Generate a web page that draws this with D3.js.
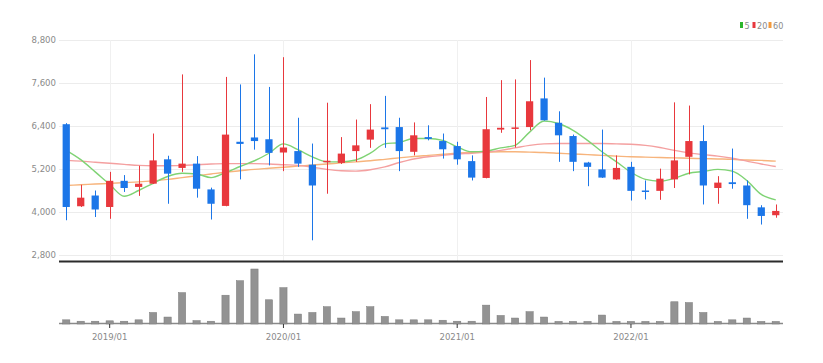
<!DOCTYPE html>
<html lang="ko">
  <head>
    <meta charset="utf-8">
    <title>monthly chart</title>
    <script src="https://d3js.org/d3.v7.min.js" charset="utf-8"></script>
    <style type="text/css">
        body {
            margin: 0;
            background: #fff;
        }
        svg text {
            font-family: "Liberation Sans Narrow", "DejaVu Sans Condensed", sans-serif;
            fill: #8a8a8a;
        }
    </style>
  </head>
  <body>
    <script type="text/javascript">
        // months on the x axis
        var months = ["2018/10","2018/11","2018/12",
            "2019/01","2019/02","2019/03","2019/04","2019/05","2019/06","2019/07","2019/08","2019/09","2019/10","2019/11","2019/12",
            "2020/01","2020/02","2020/03","2020/04","2020/05","2020/06","2020/07","2020/08","2020/09","2020/10","2020/11","2020/12",
            "2021/01","2021/02","2021/03","2021/04","2021/05","2021/06","2021/07","2021/08","2021/09","2021/10","2021/11","2021/12",
            "2022/01","2022/02","2022/03","2022/04","2022/05","2022/06","2022/07","2022/08","2022/09","2022/10","2022/11"];
        var tickLabels = ["2019/01", "2020/01", "2021/01", "2022/01"];
        var priceTicks = [2800, 4000, 5200, 6400, 7600, 8800];

        // candles
        var open  = [6450,4160,4460,4140,4870,4700,4790,5470,5230,5350,4630,4170,5960,6080,6030,5660,5700,5320,5390,5370,5700,6020,6360,6370,5680,
                     6090,5980,5840,5420,4950,6300,6330,6370,7170,6490,6120,5380,5190,4910,5260,4600,4590,4910,5540,5980,4670,4830,4740,4130,3910];
        var high  = [6480,4760,4600,5120,5030,5290,6190,5570,7840,5560,4680,7770,7560,8400,7490,8320,6630,5910,7050,6090,6580,7010,7240,6630,6500,
                     6420,6190,5960,5580,7210,7680,7700,8240,7750,6810,6160,5400,6300,5580,5400,4880,5210,7060,6970,6420,5000,5770,4880,4190,4210];
        var low   = [3770,4140,3860,3810,4560,4450,4780,4230,5120,4400,3790,4160,4910,5740,5300,5140,5260,3210,4510,5340,5400,5790,5790,5140,5580,
                     6000,5490,5320,4880,4940,6210,5800,6280,6550,5400,5140,4720,4950,4900,4320,4350,4340,4670,5050,4210,4230,4650,3810,3650,3840];
        var close = [4140,4400,4070,4870,4670,4790,5440,5070,5350,4650,4230,6160,5900,5980,5650,5800,5350,4740,5430,5630,5860,6300,6310,5700,6140,
                     6040,5750,5470,4960,6310,6350,6360,7090,6560,6140,5400,5260,4960,5230,4590,4560,4930,5440,5980,4740,4820,4780,4190,3890,4030];
        var volume = [160000,90000,90000,110000,90000,160000,530000,300000,1530000,120000,90000,1400000,2130000,2720000,1170000,
                      1780000,450000,530000,820000,250000,570000,820000,330000,160000,160000,160000,140000,90000,90000,900000,
                      380000,250000,570000,300000,80000,80000,80000,400000,80000,80000,80000,80000,1070000,1030000,530000,
                      80000,160000,250000,80000,80000];

        // moving averages as drawn
        var ma5  = [5720,5460,5120,4770,4440,4600,4800,4990,5080,5060,4960,5100,5270,5430,5640,5900,5740,5540,5400,5400,5450,5640,5900,5940,6050,
                    6050,6000,5820,5680,5700,5790,5860,6230,6540,6470,6280,6000,5680,5400,5110,4910,4860,4940,5080,5130,5190,5140,4880,4490,4340];
        var ma20 = [5440,5420,5390,5360,5330,5300,5290,5290,5300,5320,5340,5350,5350,5350,5340,5320,5300,5250,5190,5150,5140,5180,5260,5380,5480,
                    5540,5580,5620,5640,5670,5720,5790,5860,5900,5910,5910,5910,5910,5900,5890,5860,5800,5720,5650,5600,5560,5500,5420,5340,5270];
        var ma60 = [4740,4760,4780,4800,4820,4840,4870,4910,4960,5010,5060,5110,5150,5190,5220,5250,5280,5310,5340,5370,5400,5430,5470,5510,5550,
                    5580,5610,5640,5660,5670,5680,5680,5670,5660,5640,5620,5600,5580,5560,5540,5530,5520,5510,5500,5490,5480,5470,5450,5440,5420];

        var maNames = ["5", "20", "60"];
        var maColors = ["#7fd374", "#f4a0a0", "#f7b47c"];
        var upColor = "#e8383d", downColor = "#1c76e8";

        var width = 823, height = 363;
        var left = 59, right = 783;
        var priceTop = 40, priceBottom = 255, sepY = 261.5;
        var volTop = 268, volBottom = 323;

        var svg = d3.select("body").append("svg")
            .attr("width", width)
            .attr("height", height);

        var x = d3.scaleBand()
            .domain(months)
            .range([left, right])
            .paddingInner(0.5)
            .paddingOuter(0.25);
        var bw = x.bandwidth();
        var cx = function (i) { return x(months[i]) + bw / 2; };

        var y = d3.scaleLinear().domain([2800, 8800]).range([priceBottom, priceTop]);
        var yv = d3.scaleLinear().domain([0, d3.max(volume)]).range([volBottom, volTop + 1]);

        // grid
        svg.append("g")
            .selectAll("line")
            .data(priceTicks)
            .enter()
            .append("line")
            .attr("x1", left).attr("x2", right)
            .attr("y1", function (d) { return Math.round(y(d)) + 0.5; })
            .attr("y2", function (d) { return Math.round(y(d)) + 0.5; })
            .attr("stroke", "#ececec");

        svg.append("g")
            .selectAll("line")
            .data(tickLabels)
            .enter()
            .append("line")
            .attr("x1", function (d) { return Math.round(x(d) + bw / 2) + 0.5; })
            .attr("x2", function (d) { return Math.round(x(d) + bw / 2) + 0.5; })
            .attr("y1", priceTop).attr("y2", sepY)
            .attr("stroke", "#f0f0f0");

        // y labels
        svg.append("g")
            .selectAll("text")
            .data(priceTicks)
            .enter()
            .append("text")
            .attr("x", 56)
            .attr("y", function (d) { return y(d) + 3; })
            .attr("text-anchor", "end")
            .attr("font-size", "9.5px")
            .text(function (d) { return d3.format(",")(d); });

        // moving averages (under the candles)
        var line = d3.line()
            .x(function (d, i) { return cx(i); })
            .y(function (d) { return y(d); })
            .curve(d3.curveMonotoneX);
        [ma60, ma20, ma5].forEach(function (s, k) {
            svg.append("path")
                .datum(s)
                .attr("d", line)
                .attr("fill", "none")
                .attr("stroke", maColors[2 - k])
                .attr("stroke-width", 1.4);
        });

        // candles
        var idx = d3.range(months.length);
        var candle = svg.append("g").selectAll("g")
            .data(idx)
            .enter()
            .append("g");
        candle.append("line")
            .attr("x1", function (i) { return Math.round(cx(i)) + 0.5; })
            .attr("x2", function (i) { return Math.round(cx(i)) + 0.5; })
            .attr("y1", function (i) { return y(high[i]); })
            .attr("y2", function (i) { return y(low[i]); })
            .attr("stroke", function (i) { return close[i] >= open[i] ? upColor : downColor; })
            .attr("stroke-width", 1);
        candle.append("rect")
            .attr("x", function (i) { return x(months[i]); })
            .attr("width", bw)
            .attr("y", function (i) { return y(Math.max(open[i], close[i])); })
            .attr("height", function (i) { return Math.max(1.5, Math.abs(y(open[i]) - y(close[i]))); })
            .attr("fill", function (i) { return close[i] >= open[i] ? upColor : downColor; });

        // separator
        svg.append("line")
            .attr("x1", left).attr("x2", right)
            .attr("y1", sepY).attr("y2", sepY)
            .attr("stroke", "#2b2b2b")
            .attr("stroke-width", 2);

        // volume
        svg.append("line")
            .attr("x1", left).attr("x2", right)
            .attr("y1", volBottom + 0.5).attr("y2", volBottom + 0.5)
            .attr("stroke", "#8a8a8a")
            .attr("stroke-width", 1.5);

        svg.append("g").selectAll("rect")
            .data(volume)
            .enter()
            .append("rect")
            .attr("x", function (d, i) { return x(months[i]); })
            .attr("width", bw)
            .attr("y", function (d) { return yv(d); })
            .attr("height", function (d) { return volBottom + 1 - yv(d); })
            .attr("fill", "#939393")
            .attr("stroke", "#7a7a7a")
            .attr("stroke-width", 0.5);

        // x axis
        var xAxis = svg.append("g")
            .attr("transform", "translate(0," + (volBottom + 1) + ")")
            .call(d3.axisBottom(x).tickValues(tickLabels).tickSize(4).tickSizeOuter(0));
        xAxis.select(".domain").remove();
        xAxis.selectAll(".tick line").attr("stroke", "#333");
        xAxis.selectAll(".tick text")
            .attr("font-size", "9.5px")
            .attr("font-family", "Liberation Sans Narrow, DejaVu Sans Condensed, sans-serif")
            .attr("fill", "#8a8a8a")
            .attr("dy", "0.9em");

        // legend
        var legX = [740, 752.5, 768.5];
        var legend = svg.append("g").selectAll("g")
            .data(maNames)
            .enter()
            .append("g")
            .attr("transform", function (d, i) { return "translate(" + legX[i] + ",22)"; });
        legend.append("rect")
            .attr("width", 3).attr("height", 6)
            .attr("fill", function (d, i) { return [ "#2bb52b", "#e8383d", "#f39a3c" ][i]; });
        legend.append("text")
            .attr("x", 4.5).attr("y", 6.5)
            .attr("font-size", "9px")
            .text(function (d) { return d; });
    </script>
  </body>
</html>
